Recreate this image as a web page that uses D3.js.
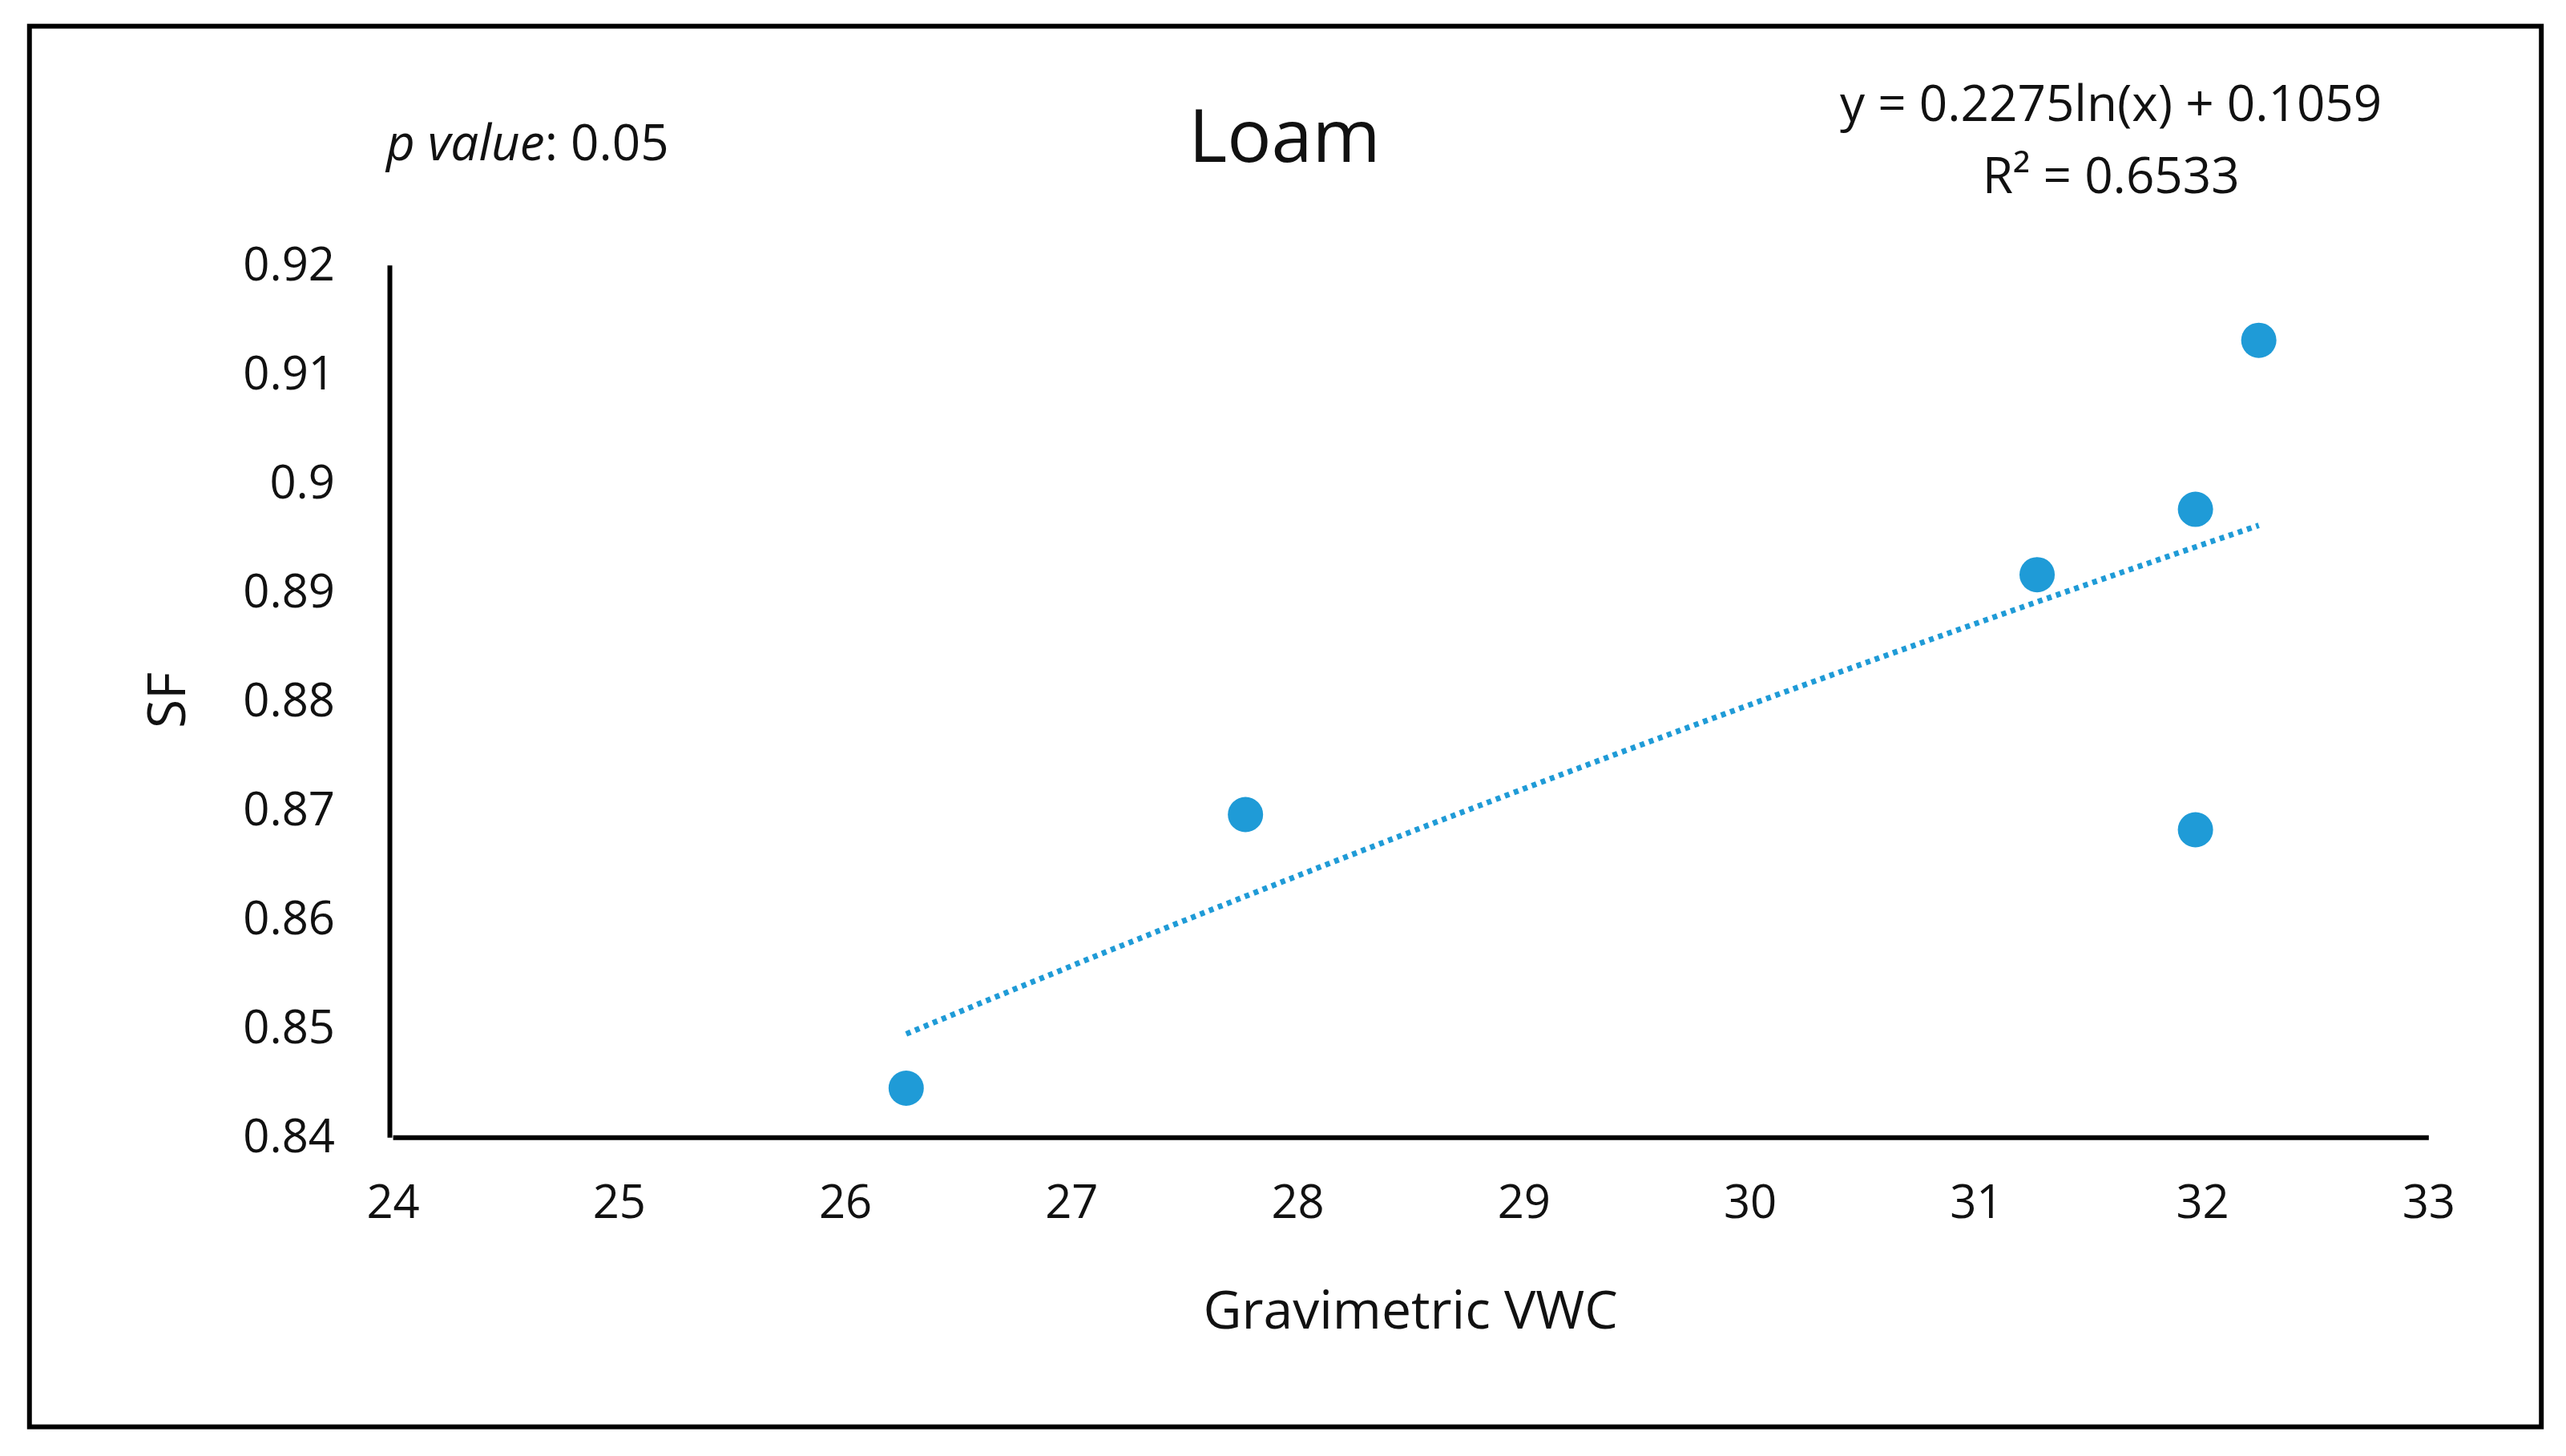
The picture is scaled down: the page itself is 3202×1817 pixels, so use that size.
<!DOCTYPE html>
<html><head><meta charset="utf-8">
<script src="https://cdn.jsdelivr.net/npm/d3@7"></script>
<style>body{margin:0;background:#fff}text{font-family:"Open Sans",sans-serif;fill:#111}</style>
</head><body>
<svg id="c" width="3202" height="1817"></svg>
<script>
const xValues = [26.27, 27.77, 31.27, 31.97, 31.97, 32.25];
const yValues = [0.8445, 0.8696, 0.8916, 0.8976, 0.8682, 0.9131];
const xTicks = [24,25,26,27,28,29,30,31,32,33];
const yTicks = [0.84,0.85,0.86,0.87,0.88,0.89,0.90,0.91,0.92];
const trendA = 0.2275, trendB = 0.1059;

const S = 2.042;
const svg = d3.select("#c");
svg.append("rect").attr("x",18*S).attr("y",16*S).attr("width",(1553-18)*S).attr("height",(872-16)*S)
  .attr("fill","#fff").attr("stroke","#000").attr("stroke-width",6);

const x = d3.scaleLinear().domain([24,33]).range([240*S,1484*S]);
const y = d3.scaleLinear().domain([0.84,0.92]).range([695*S,162*S]);

const xa = svg.append("g").attr("transform",`translate(0,${y(0.84)})`)
  .call(d3.axisBottom(x).tickValues(xTicks).tickSize(0).tickPadding(60));
xa.select(".domain").attr("stroke","#000").attr("stroke-width",6);
xa.selectAll("text").attr("font-size",58).attr("font-family","Open Sans").attr("fill","#222");

const ya = svg.append("g").attr("transform",`translate(${238*S},0)`)
  .call(d3.axisLeft(y).tickValues(yTicks).tickSize(0).tickPadding(68).tickFormat(d=>d3.format("")(+d.toFixed(2))));
ya.select(".domain").attr("stroke","#000").attr("stroke-width",6);
ya.selectAll("text").attr("font-size",58).attr("font-family","Open Sans").attr("fill","#222");

// trendline
const tx = d3.range(0,61).map(i => xValues[0] + (xValues[5]-xValues[0])*i/60);
const line = d3.line().x(d=>x(d)).y(d=>y(trendA*Math.log(d)+trendB));
svg.append("path").datum(tx).attr("d",line).attr("fill","none")
  .attr("stroke","#1f9bd7").attr("stroke-width",7).attr("stroke-dasharray","6,6");

svg.selectAll("circle.pt").data(xValues).enter().append("circle")
  .attr("cx",d=>x(d)).attr("cy",(d,i)=>y(yValues[i])).attr("r",22).attr("fill","#1f9bd7");

svg.append("text").attr("x",785*S).attr("y",99*S).attr("text-anchor","middle").attr("font-size",92).text("Loam");
const pv = svg.append("text").attr("x",236*S).attr("y",98*S).attr("font-size",62);
pv.append("tspan").attr("font-style","italic").text("p value");
pv.append("tspan").text(": 0.05");
svg.append("text").attr("x",1290*S).attr("y",74*S).attr("text-anchor","middle").attr("font-size",62).text("y = 0.2275ln(x) + 0.1059");
svg.append("text").attr("x",1290*S).attr("y",118*S).attr("text-anchor","middle").attr("font-size",62).text("R² = 0.6533");
svg.append("text").attr("x",862*S).attr("y",812*S).attr("text-anchor","middle").attr("font-size",66).text("Gravimetric VWC");
svg.append("text").attr("transform",`translate(${113*S},${428*S}) rotate(-90)`).attr("text-anchor","middle").attr("font-size",66).text("SF");
</script>
</body></html>
